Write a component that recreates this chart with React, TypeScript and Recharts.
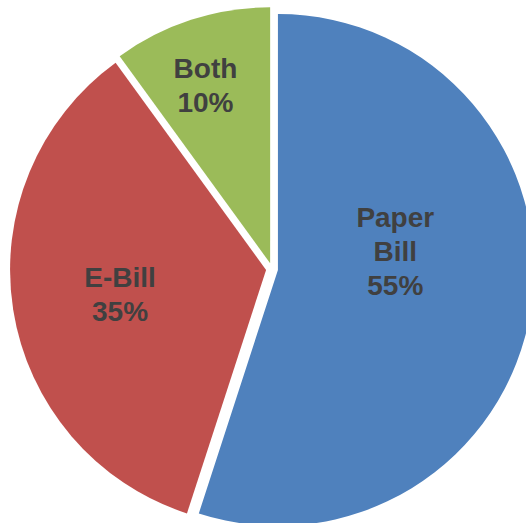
import { PieChart, Pie, Cell } from "recharts";

document.body.style.margin = "0";

const categories = ["Paper Bill", "E-Bill", "Both"];
const shares = [55, 35, 10];
const colors = ["#4F81BD", "#C0504D", "#9BBB59"];

const data = categories.map((name, i) => ({ name, value: shares[i] }));

const CX = 267;
const CY = 264;
const RADIUS = 256;
const EXPLODE = 6;
const START = 90;
const END = -270;

// label placement: distance from centre and angle tweak per slice
const labelDist = [129, 150, 189];
const labelTurn = [15, 2.5, 1];

const total = shares.reduce((a, b) => a + b, 0);
const midAngles = shares.map((v, i) => {
  const before = shares.slice(0, i).reduce((a, b) => a + b, 0);
  return START - ((before + v / 2) / total) * 360;
});

const RAD = Math.PI / 180;

function renderLabel(k: number) {
  return (props: any) => {
    const { index, midAngle, percent, name } = props;
    if (index !== k) return null;
    const a = (midAngle + labelTurn[k]) * RAD;
    const x = CX + labelDist[k] * Math.cos(a);
    const y = CY - labelDist[k] * Math.sin(a);
    const lines = [...String(name).split(" "), `${Math.round(percent * 100)}%`];
    const lh = 34;
    const first = y - ((lines.length - 1) * lh) / 2 + 10;
    return (
      <text
        x={x}
        y={first}
        textAnchor="middle"
        fill="#404040"
        fontFamily="'Liberation Sans', Arial, sans-serif"
        fontWeight="bold"
        fontSize={28}
      >
        {lines.map((l, j) => (
          <tspan key={j} x={x} dy={j === 0 ? 0 : lh}>
            {l}
          </tspan>
        ))}
      </text>
    );
  };
}

export default function App() {
  return (
    <PieChart width={526} height={523}>
      {categories.map((_, k) => (
        <Pie
          key={k}
          data={data}
          dataKey="value"
          nameKey="name"
          cx={CX + EXPLODE * Math.cos(midAngles[k] * RAD)}
          cy={CY - EXPLODE * Math.sin(midAngles[k] * RAD)}
          outerRadius={RADIUS}
          startAngle={START}
          endAngle={END}
          stroke="none"
          labelLine={false}
          label={renderLabel(k)}
          isAnimationActive={false}
        >
          {data.map((_, i) => (
            <Cell key={i} fill={i === k ? colors[i] : "transparent"} />
          ))}
        </Pie>
      ))}
    </PieChart>
  );
}
